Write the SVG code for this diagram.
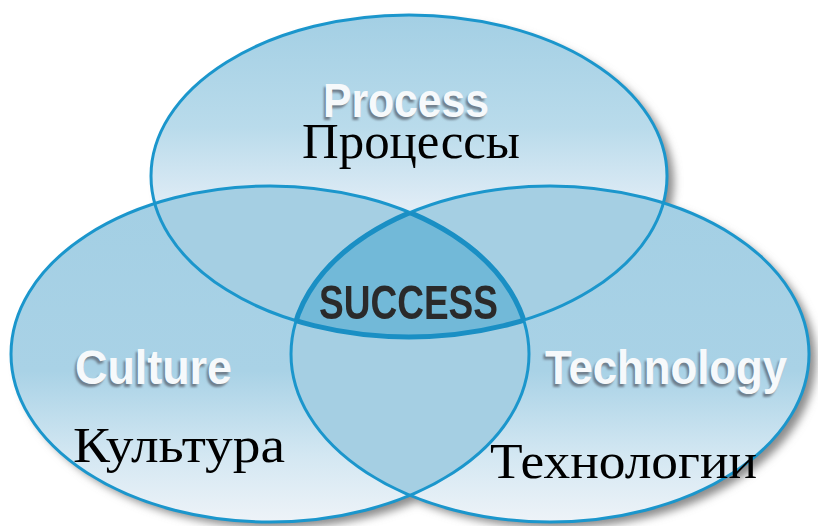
<svg xmlns="http://www.w3.org/2000/svg" width="818" height="526" viewBox="0 0 818 526">
<defs>
<style>
.out{fill:none;stroke:#1b96cc;stroke-width:3}
.so{fill:none;stroke:#1a8fc4;stroke-width:5}
.en{font-family:"Liberation Sans",Arial,sans-serif;font-weight:bold;font-size:49px}
.ens{fill:#6f7f8c}
.enw{fill:#f6f9fb}
.ru{font-family:"Liberation Serif","Times New Roman",serif;font-size:50px;fill:#000}
</style>
<linearGradient id="gTop" x1="0" y1="0" x2="0" y2="1">
<stop offset="0" stop-color="#a3cfe4"/>
<stop offset="0.35" stop-color="#b9dbeb"/>
<stop offset="0.62" stop-color="#e4eef7"/>
<stop offset="1" stop-color="#eff4f9"/>
</linearGradient>
<linearGradient id="gLow" x1="0" y1="0" x2="0" y2="1">
<stop offset="0" stop-color="#a3cfe4"/>
<stop offset="0.55" stop-color="#a9d2e6"/>
<stop offset="0.8" stop-color="#d3e7f2"/>
<stop offset="1" stop-color="#eef3f8"/>
</linearGradient>
<clipPath id="cT"><ellipse cx="409" cy="176" rx="258" ry="161"/></clipPath>
<clipPath id="cL"><ellipse cx="270" cy="354" rx="259" ry="168"/></clipPath>
<clipPath id="cR"><ellipse cx="550" cy="354" rx="259" ry="168"/></clipPath>
<filter id="sh" x="-10%" y="-10%" width="120%" height="120%"><feGaussianBlur stdDeviation="4"/></filter>
<filter id="tb" x="-10%" y="-20%" width="120%" height="140%"><feGaussianBlur stdDeviation="1.2"/></filter>
<filter id="tb2" x="-10%" y="-20%" width="120%" height="140%"><feGaussianBlur stdDeviation="0.6"/></filter>
</defs>
<rect width="818" height="526" fill="#ffffff"/>
<g id="shadow" fill="#8c8c8c" filter="url(#sh)" transform="translate(7,6)">
<ellipse cx="409" cy="176" rx="258" ry="161"/>
<ellipse cx="270" cy="354" rx="259" ry="168"/>
<ellipse cx="550" cy="354" rx="259" ry="168"/>
</g>
<g id="node-process"><ellipse cx="409" cy="176" rx="258" ry="161" fill="url(#gTop)"/></g>
<g id="node-culture"><ellipse cx="270" cy="354" rx="259" ry="168" fill="url(#gLow)"/></g>
<g id="node-technology"><ellipse cx="550" cy="354" rx="259" ry="168" fill="url(#gLow)"/></g>
<g id="overlaps" fill="#a5cfe3">
<ellipse cx="270" cy="354" rx="259" ry="168" clip-path="url(#cT)"/>
<ellipse cx="550" cy="354" rx="259" ry="168" clip-path="url(#cT)"/>
<ellipse cx="550" cy="354" rx="259" ry="168" clip-path="url(#cL)"/>
</g>
<g id="outlines">
<ellipse class="out" cx="409" cy="176" rx="258" ry="161"/>
<ellipse class="out" cx="270" cy="354" rx="259" ry="168"/>
<ellipse class="out" cx="550" cy="354" rx="259" ry="168"/>
</g>
<g id="node-success">
<g clip-path="url(#cL)"><g clip-path="url(#cR)">
<ellipse cx="409" cy="176" rx="258" ry="161" fill="#72b9d8"/>
<ellipse class="so" cx="409" cy="176" rx="258" ry="161"/>
</g></g>
<g clip-path="url(#cT)"><g clip-path="url(#cR)">
<ellipse class="so" cx="270" cy="354" rx="259" ry="168"/>
</g></g>
<g clip-path="url(#cT)"><g clip-path="url(#cL)">
<ellipse class="so" cx="550" cy="354" rx="259" ry="168"/>
</g></g>
</g>
<g id="connectors"/>
<g id="labels">
<g id="label-process">
<text class="en ens" x="321" y="120" textLength="166" lengthAdjust="spacingAndGlyphs" filter="url(#tb)">Process</text>
<text class="en enw" x="323" y="117" textLength="166" lengthAdjust="spacingAndGlyphs">Process</text>
<text class="ru" x="302" y="158" font-size="48" textLength="218" lengthAdjust="spacingAndGlyphs">Процессы</text>
</g>
<g id="label-success">
<text class="en" x="319" y="319" font-size="50" fill="#2b2b2b" textLength="179" lengthAdjust="spacingAndGlyphs" filter="url(#tb2)">SUCCESS</text>
</g>
<g id="label-culture">
<text class="en ens" x="73" y="387" textLength="157" lengthAdjust="spacingAndGlyphs" filter="url(#tb)">Culture</text>
<text class="en enw" x="75" y="384" textLength="157" lengthAdjust="spacingAndGlyphs">Culture</text>
<text class="ru" x="73" y="462" font-size="52" textLength="212" lengthAdjust="spacingAndGlyphs">Культура</text>
</g>
<g id="label-technology">
<text class="en ens" x="543" y="387" textLength="242" lengthAdjust="spacingAndGlyphs" filter="url(#tb)">Technology</text>
<text class="en enw" x="545" y="384" textLength="242" lengthAdjust="spacingAndGlyphs">Technology</text>
<text class="ru" x="490" y="478" font-size="52" textLength="267" lengthAdjust="spacingAndGlyphs">Технологии</text>
</g>
</g>
</svg>
